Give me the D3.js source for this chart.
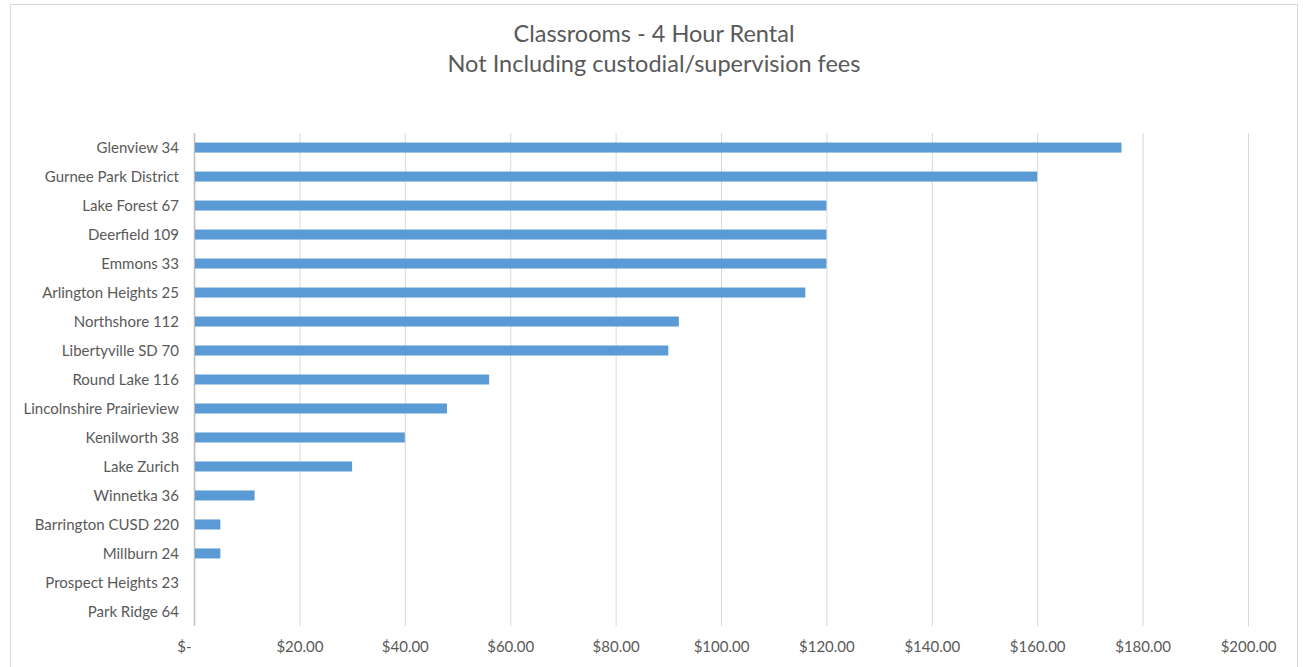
<!DOCTYPE html>
<html>
<head>
<meta charset="utf-8">
<style>
	body {margin: 0; background: #fff;}
	svg {display: block;}
	text {font-family: Lato, "Open Sans", sans-serif; fill: #595959;}
</style>
<script src="https://d3js.org/d3.v7.min.js"></script>
</head>
<body>
<svg id="chart" width="1303" height="667"></svg>
<script>
	// data
	var districts = ["Glenview 34", "Gurnee Park District", "Lake Forest 67", "Deerfield 109", "Emmons 33",
		"Arlington Heights 25", "Northshore 112", "Libertyville SD 70", "Round Lake 116", "Lincolnshire Prairieview",
		"Kenilworth 38", "Lake Zurich", "Winnetka 36", "Barrington CUSD 220", "Millburn 24",
		"Prospect Heights 23", "Park Ridge 64"];
	var rates = [176, 160, 120, 120, 120, 116, 92, 90, 56, 48, 40, 30, 11.5, 5, 5, 0, 0];
	var ticks = [0, 20, 40, 60, 80, 100, 120, 140, 160, 180, 200];
	var titleLines = ["Classrooms - 4 Hour Rental", "Not Including custodial/supervision fees"];

	var svg = d3.select("#chart");

	// chart frame
	svg.append("rect")
		.attr("x", 10.5).attr("y", 4.5)
		.attr("width", 1287).attr("height", 680)
		.attr("fill", "none")
		.attr("stroke", "#d9d9d9");

	var x = d3.scaleLinear().domain([0, 200]).range([194, 1248]);
	var y = d3.scaleBand().domain(districts).range([133, 626]).paddingInner(0.655).paddingOuter(0.33);

	// gridlines
	svg.append("g").selectAll("line")
		.data(ticks)
		.enter().append("line")
		.attr("x1", function(d) { return x(d) + 0.5; })
		.attr("x2", function(d) { return x(d) + 0.5; })
		.attr("y1", 133).attr("y2", 626)
		.attr("stroke", function(d) { return d == 0 ? "#bfbfbf" : "#d9d9d9"; })
		.attr("stroke-width", function(d) { return d == 0 ? 1.5 : 1; });

	// bars
	svg.append("g").selectAll("rect")
		.data(rates)
		.enter().append("rect")
		.attr("x", x(0) + 1)
		.attr("y", function(d, i) { return y(districts[i]); })
		.attr("width", function(d) { return Math.max(0, x(d) - x(0) - 1); })
		.attr("height", y.bandwidth())
		.attr("fill", "#5b9bd5");

	// x axis labels
	var fmt = function(d) { return d == 0 ? "$-" : "$" + d3.format(".2f")(d); };
	var xAxis = d3.axisBottom(x).tickValues(ticks).tickFormat(fmt).tickSize(0).tickPadding(0);
	var gx = svg.append("g")
		.attr("transform", "translate(0,641)")
		.call(xAxis);
	gx.select(".domain").remove();
	gx.selectAll("text")
		.style("font-family", "Lato, sans-serif")
		.style("font-size", "15px")
		.attr("fill", "#595959")
		.attr("dx", function(d) { return d == 0 ? "-10" : "0"; });

	// y axis labels
	var yAxis = d3.axisLeft(y).tickSize(0).tickPadding(15);
	var gy = svg.append("g")
		.attr("transform", "translate(194,1)")
		.call(yAxis);
	gy.select(".domain").remove();
	gy.selectAll("text")
		.style("font-family", "Lato, sans-serif")
		.style("font-size", "15px")
		.attr("fill", "#595959");

	// title
	svg.append("g").selectAll("text")
		.data(titleLines)
		.enter().append("text")
		.attr("x", 654)
		.attr("y", function(d, i) { return 42 + i * 30; })
		.attr("text-anchor", "middle")
		.style("font-size", "23.5px")
		.text(function(d) { return d; });
</script>
</body>
</html>
